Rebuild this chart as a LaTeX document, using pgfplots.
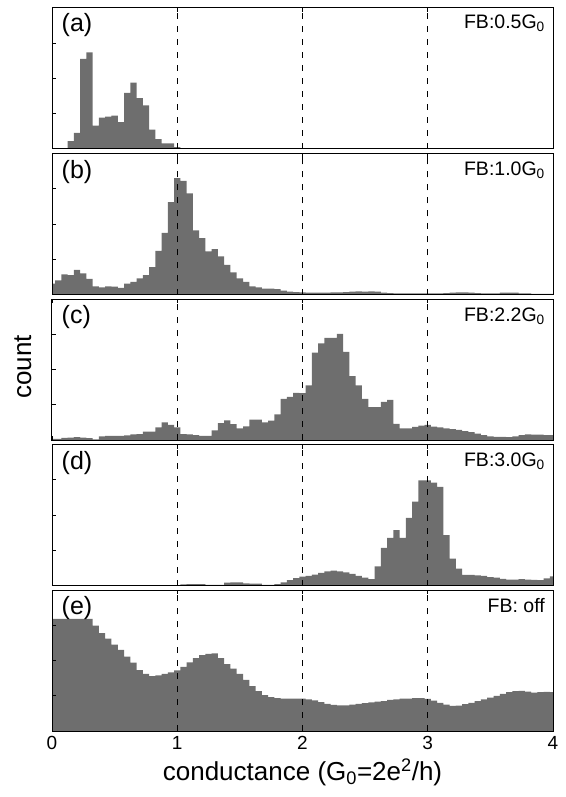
\documentclass[border=0pt]{standalone}
\usepackage{fontspec}
\setmainfont{Liberation Sans}
\usepackage{pgfplots}
\pgfplotsset{compat=1.18}
\definecolor{barcol}{HTML}{6E6E6E}
\tikzset{
  lbl/.style={anchor=north west, inner sep=0pt, font=\fontsize{25}{25}\selectfont},
  fb/.style={anchor=north east, inner sep=0pt, font=\fontsize{19.5}{19.5}\selectfont},
}
\begin{document}
\begin{tikzpicture}
\pgfplotsset{
  panel/.style={
    scale only axis, width=501pt, height=141pt,
    xmin=0, xmax=4, ymin=0, ymax=4,
    xtick={0,1,2,3,4}, ytick={1,2,3},
    yticklabels={}, xticklabels={},
    tick align=inside, xtick pos=both, ytick pos=left,
    major tick length=4pt,
    axis on top,
    axis line style={line width=1pt, black},
    every tick/.style={black, line width=0.8pt},
    extra x ticks={1,2,3}, extra x tick labels={},
    extra x tick style={grid=major, major tick length=0pt},
    major grid style={black, line width=0.8pt, dash pattern=on 6pt off 7pt},
    /pgf/number format/assume math mode=true,
    xticklabel style={font=\fontsize{19}{19}\selectfont, yshift=-2pt},
    anchor=north west,
  },
  bars/.style={ybar, bar width=0.05, bar shift=0pt, fill=barcol, draw=none},
}
\path[use as bounding box] (-52pt,8pt) rectangle (513pt,-789pt);

% (a)
\begin{axis}[panel, at={(0pt,0pt)}]
\addplot[bars] table {
x y
0.15 0.22
0.20 0.46
0.25 2.56
0.30 2.74
0.35 0.66
0.40 0.89
0.45 0.92
0.50 0.95
0.55 0.76
0.60 1.59
0.65 1.88
0.70 1.44
0.75 1.24
0.80 0.55
0.85 0.28
0.90 0.16
0.95 0.16
1.00 0.05
};
\node[lbl] at (rel axis cs:0.019,0.965) {(a)};
\node[fb] at (rel axis cs:0.984,0.95) {FB:0.5G\textsubscript{0}};
\end{axis}

% (b)
\begin{axis}[panel, at={(0pt,-145.5pt)}]
\addplot[bars] table {
x y
0.00 0.31
0.05 0.40
0.10 0.57
0.15 0.55
0.20 0.70
0.25 0.60
0.30 0.44
0.35 0.23
0.40 0.20
0.45 0.23
0.50 0.22
0.55 0.19
0.60 0.31
0.65 0.36
0.70 0.46
0.75 0.55
0.80 0.78
0.85 1.24
0.90 1.75
0.95 2.62
1.00 3.30
1.05 3.22
1.10 2.87
1.15 1.82
1.20 1.60
1.25 1.22
1.30 1.29
1.35 1.08
1.40 0.84
1.45 0.63
1.50 0.46
1.55 0.36
1.60 0.23
1.65 0.20
1.70 0.17
1.75 0.17
1.80 0.15
1.85 0.11
1.90 0.08
1.95 0.07
2.00 0.06
2.05 0.05
2.10 0.05
2.15 0.05
2.20 0.05
2.25 0.06
2.30 0.06
2.35 0.07
2.40 0.08
2.45 0.09
2.50 0.08
2.55 0.09
2.60 0.08
2.65 0.05
2.70 0.04
2.75 0.03
2.80 0.03
2.85 0.03
2.90 0.03
2.95 0.03
3.00 0.03
3.05 0.03
3.10 0.03
3.15 0.04
3.20 0.05
3.25 0.06
3.30 0.06
3.35 0.05
3.40 0.04
3.45 0.03
3.50 0.03
3.55 0.03
3.60 0.05
3.65 0.05
3.70 0.05
3.75 0.03
3.80 0.03
3.85 0.02
3.90 0.02
3.95 0.02
4.00 0.02
};
\node[lbl] at (rel axis cs:0.019,0.955) {(b)};
\node[fb] at (rel axis cs:0.984,0.94) {FB:1.0G\textsubscript{0}};
\end{axis}

% (c)
\begin{axis}[panel, at={(0pt,-291pt)},
  ylabel={count},
  ylabel style={at={(axis description cs:-0.058,0.52)}, anchor=center, font=\fontsize{26}{26}\selectfont}]
\addplot[bars] table {
x y
0.00 0.03
0.05 0.03
0.10 0.06
0.15 0.07
0.20 0.08
0.25 0.07
0.30 0.05
0.35 0.02
0.40 0.10
0.45 0.12
0.50 0.12
0.55 0.12
0.60 0.13
0.65 0.16
0.70 0.17
0.75 0.24
0.80 0.24
0.85 0.36
0.90 0.50
0.95 0.43
1.00 0.36
1.05 0.17
1.10 0.16
1.15 0.14
1.20 0.12
1.25 0.12
1.30 0.27
1.35 0.48
1.40 0.56
1.45 0.45
1.50 0.33
1.55 0.39
1.60 0.58
1.65 0.58
1.70 0.50
1.75 0.55
1.80 0.73
1.85 1.17
1.90 1.22
1.95 1.34
2.00 1.33
2.05 1.55
2.10 2.48
2.15 2.74
2.20 2.90
2.25 2.90
2.30 3.01
2.35 2.50
2.40 1.81
2.45 1.55
2.50 1.17
2.55 0.93
2.60 0.93
2.65 1.08
2.70 1.14
2.75 0.46
2.80 0.33
2.85 0.33
2.90 0.37
2.95 0.41
3.00 0.43
3.05 0.38
3.10 0.36
3.15 0.33
3.20 0.31
3.25 0.29
3.30 0.25
3.35 0.22
3.40 0.18
3.45 0.14
3.50 0.10
3.55 0.09
3.60 0.09
3.65 0.08
3.70 0.10
3.75 0.14
3.80 0.16
3.85 0.15
3.90 0.15
3.95 0.14
4.00 0.14
};
\node[lbl] at (rel axis cs:0.019,0.955) {(c)};
\node[fb] at (rel axis cs:0.984,0.94) {FB:2.2G\textsubscript{0}};
\end{axis}

% (d)
\begin{axis}[panel, at={(0pt,-436.5pt)}]
\addplot[bars] table {
x y
1.05 0.03
1.10 0.04
1.15 0.04
1.20 0.04
1.25 0.02
1.30 0.02
1.35 0.02
1.40 0.08
1.45 0.09
1.50 0.09
1.55 0.06
1.60 0.05
1.65 0.05
1.70 0.02
1.75 0.02
1.80 0.04
1.85 0.09
1.90 0.15
1.95 0.21
2.00 0.25
2.05 0.27
2.10 0.31
2.15 0.36
2.20 0.40
2.25 0.42
2.30 0.40
2.35 0.37
2.40 0.33
2.45 0.27
2.50 0.22
2.55 0.18
2.60 0.54
2.65 1.07
2.70 1.35
2.75 1.57
2.80 1.35
2.85 1.92
2.90 2.38
2.95 2.98
3.00 2.98
3.05 2.92
3.10 2.80
3.15 1.43
3.20 0.76
3.25 0.48
3.30 0.30
3.35 0.30
3.40 0.29
3.45 0.27
3.50 0.24
3.55 0.22
3.60 0.19
3.65 0.17
3.70 0.17
3.75 0.18
3.80 0.17
3.85 0.16
3.90 0.15
3.95 0.20
4.00 0.26
};
\node[lbl] at (rel axis cs:0.019,0.955) {(d)};
\node[fb] at (rel axis cs:0.984,0.94) {FB:3.0G\textsubscript{0}};
\end{axis}

% (e)
\begin{axis}[panel, at={(0pt,-582pt)},
  xticklabels={0,1,2,3,4},
  xlabel={conductance (G\textsubscript{0}=2e\textsuperscript{2}/h)},
  xlabel style={font=\fontsize{26}{26}\selectfont, yshift=-2pt}]
\addplot[bars] table {
x y
0.00 3.18
0.05 3.18
0.10 3.18
0.15 3.18
0.20 3.18
0.25 3.18
0.30 3.18
0.35 2.99
0.40 2.78
0.45 2.62
0.50 2.45
0.55 2.30
0.60 2.11
0.65 1.94
0.70 1.73
0.75 1.62
0.80 1.56
0.85 1.58
0.90 1.62
0.95 1.66
1.00 1.72
1.05 1.82
1.10 1.95
1.15 2.07
1.20 2.15
1.25 2.19
1.30 2.20
1.35 2.07
1.40 1.90
1.45 1.77
1.50 1.62
1.55 1.45
1.60 1.27
1.65 1.13
1.70 1.02
1.75 0.96
1.80 0.93
1.85 0.92
1.90 0.92
1.95 0.92
2.00 0.92
2.05 0.90
2.10 0.87
2.15 0.82
2.20 0.77
2.25 0.74
2.30 0.73
2.35 0.73
2.40 0.75
2.45 0.77
2.50 0.79
2.55 0.81
2.60 0.83
2.65 0.85
2.70 0.88
2.75 0.90
2.80 0.92
2.85 0.92
2.90 0.93
2.95 0.93
3.00 0.91
3.05 0.86
3.10 0.80
3.15 0.75
3.20 0.71
3.25 0.72
3.30 0.76
3.35 0.80
3.40 0.85
3.45 0.90
3.50 0.95
3.55 1.00
3.60 1.05
3.65 1.10
3.70 1.13
3.75 1.14
3.80 1.12
3.85 1.09
3.90 1.10
3.95 1.11
4.00 1.10
};
\node[lbl] at (rel axis cs:0.019,0.955) {(e)};
\node[fb] at (rel axis cs:0.984,0.94) {FB: off};
\end{axis}
\end{tikzpicture}
\end{document}
